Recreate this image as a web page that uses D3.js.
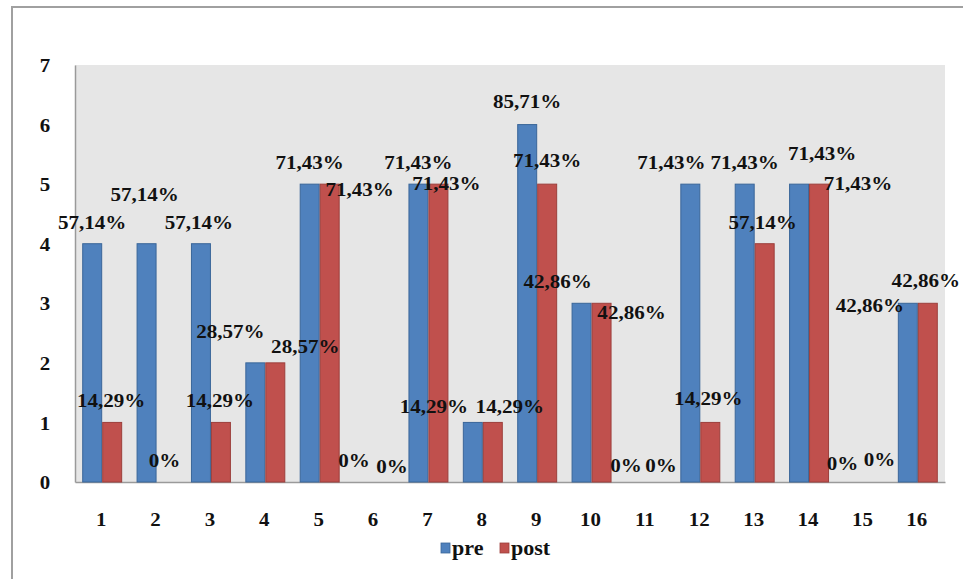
<!DOCTYPE html>
<html>
<head>
<meta charset="utf-8">
<script src="https://cdn.jsdelivr.net/npm/d3@7"></script>
<style>
  html, body { margin: 0; padding: 0; background: #ffffff; }
  svg { display: block; }
</style>
</head>
<body>
<svg id="chart" width="963" height="579"></svg>
<script>
// Categories and series values (counts out of 7)
const categories = ["1","2","3","4","5","6","7","8","9","10","11","12","13","14","15","16"];
const preValues  = [4, 4, 4, 2, 5, 0, 5, 1, 6, 3, 0, 5, 5, 5, 0, 3];
const postValues = [1, 0, 1, 2, 5, 0, 5, 1, 5, 3, 0, 1, 4, 5, 0, 3];
const seriesNames = ["pre", "post"];
const yTicks = [0, 1, 2, 3, 4, 5, 6, 7];
const total = 7;

// Hand-tuned nudges for the data labels so overlapping ones stay readable (px)
const preLabelNudge = [
  [0,0],[-2,-28],[-2,0],[-25,-10],[0,0],[-10,0],[0,0],[-39,6],
  [0,-2],[-24,0],[-10,5],[-19,0],[0,0],[23,-9],[-11,3],[-38,24]
];
const postLabelNudge = [
  [-1,0],[-2,0],[-1,0],[30,5],[30,27],[8,6],[8,21],[17,6],
  [0,-2],[30,31],[5,5],[-2,-2],[-2,0],[39,21],[6,-1],[-2,-1]
];

const colors = { pre: "#4f81bd", post: "#c0504d" };
const strokes = { pre: "#3a6699", post: "#9c3f3c" };
const serif = "Liberation Serif";
const ink = "#111";

const svg = d3.select("#chart");

// outer frame (top and left edges)
svg.append("line").attr("x1", 12).attr("x2", 963).attr("y1", 7).attr("y2", 7)
  .attr("stroke", "#a0a0a0").attr("stroke-width", 2);
svg.append("line").attr("x1", 12).attr("x2", 12).attr("y1", 6).attr("y2", 579)
  .attr("stroke", "#a0a0a0").attr("stroke-width", 2);

const plot = { left: 75, right: 945, top: 65, bottom: 482 };

const x0 = d3.scaleBand().domain(categories)
  .range([plot.left, plot.right]).paddingInner(0.265).paddingOuter(0.1325);
const x1 = d3.scaleBand().domain(seriesNames).range([0, x0.bandwidth()]);
const y = d3.scaleLinear().domain([0, total]).range([plot.bottom, plot.top]);

// plot background
svg.append("rect")
  .attr("x", plot.left).attr("y", plot.top)
  .attr("width", plot.right - plot.left).attr("height", plot.bottom - plot.top)
  .attr("fill", "#e6e6e6");

// y axis
const yAxis = d3.axisLeft(y).tickValues(yTicks).tickSize(0).tickPadding(0).tickFormat(d3.format("d"));
const gy = svg.append("g").attr("transform", `translate(${plot.left},0)`).call(yAxis)
  .attr("font-family", serif);
gy.select(".domain").attr("stroke", "#9a9a9a").attr("stroke-width", 1.5);
gy.selectAll(".tick text")
  .attr("font-family", serif).attr("fill", ink)
  .attr("font-size", 19).attr("font-weight", "bold")
  .attr("text-anchor", "middle").attr("dy", "0.35em")
  .attr("x", 0)
  .attr("transform", "translate(-30,0) scale(1.1,1)");

// x axis
const xAxis = d3.axisBottom(x0).tickSize(0).tickPadding(0);
const gx = svg.append("g").attr("transform", `translate(0,${plot.bottom})`).call(xAxis)
  .attr("font-family", serif);
gx.select(".domain").attr("stroke", "#9a9a9a").attr("stroke-width", 1.5);
gx.selectAll(".tick text")
  .attr("font-family", serif).attr("fill", ink)
  .attr("font-size", 19).attr("font-weight", "bold")
  .attr("y", 0).attr("dy", 0)
  .attr("transform", "translate(-1,44) scale(1.1,1)");

// bars
const rows = categories.map((c, i) => ({
  cat: c,
  items: [
    { key: "pre", value: preValues[i], nudge: preLabelNudge[i] },
    { key: "post", value: postValues[i], nudge: postLabelNudge[i] }
  ]
}));

const groups = svg.append("g").selectAll("g").data(rows).join("g")
  .attr("transform", d => `translate(${x0(d.cat)},0)`);

groups.selectAll("rect").data(d => d.items).join("rect")
  .attr("x", d => x1(d.key) + 0.5)
  .attr("y", d => y(d.value))
  .attr("width", x1.bandwidth() - 1)
  .attr("height", d => y(0) - y(d.value))
  .attr("fill", d => colors[d.key])
  .attr("stroke", d => strokes[d.key])
  .attr("stroke-width", d => d.value > 0 ? 1 : 0);

// data labels (share of 7, decimal comma; zero shown as 0%)
const pct = v => v === 0 ? "0%" : (v / total * 100).toFixed(2).replace(".", ",") + "%";
const labels = svg.append("g");
rows.forEach(r => {
  r.items.forEach(it => {
    const cx = x0(r.cat) + x1(it.key) + x1.bandwidth() / 2 + it.nudge[0];
    const by = y(it.value) - 15 + it.nudge[1];
    labels.append("text")
      .attr("font-family", serif)
      .attr("font-size", 19.5)
      .attr("font-weight", "bold")
      .attr("fill", ink)
      .attr("text-anchor", "middle")
      .attr("transform", `translate(${cx},${by}) scale(1.08,1)`)
      .text(pct(it.value));
  });
});

// legend
const legend = svg.append("g").attr("transform", "translate(441,0)");
const legendItems = [
  { key: "pre", offset: 0 },
  { key: "post", offset: 59 }
];
legendItems.forEach(li => {
  legend.append("rect")
    .attr("x", li.offset).attr("y", 543).attr("width", 9).attr("height", 10)
    .attr("fill", colors[li.key]).attr("stroke", strokes[li.key]).attr("stroke-width", 0.8);
  legend.append("text")
    .attr("font-family", serif).attr("fill", ink)
    .attr("font-size", 21).attr("font-weight", "bold")
    .attr("transform", `translate(${li.offset + 11},555) scale(1.05,1)`)
    .text(li.key);
});
</script>
</body>
</html>
